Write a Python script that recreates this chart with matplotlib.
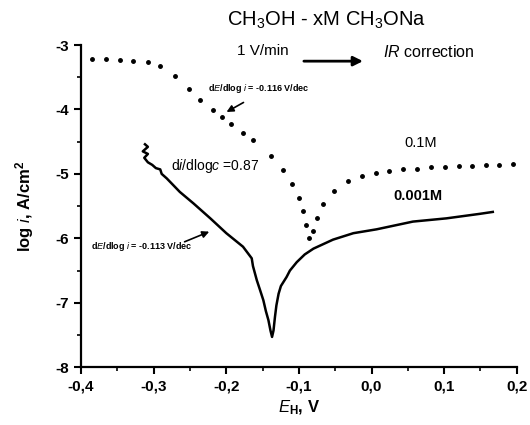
import matplotlib
matplotlib.use('Agg')
import matplotlib.pyplot as plt
from matplotlib.ticker import MultipleLocator, FuncFormatter

plt.rcParams['font.family'] = ['Liberation Sans', 'DejaVu Sans']
plt.rcParams['mathtext.fontset'] = 'custom'
plt.rcParams['mathtext.rm'] = 'Liberation Sans'
plt.rcParams['mathtext.it'] = 'Liberation Sans:italic'
plt.rcParams['mathtext.bf'] = 'Liberation Sans:bold'

# 0.1M curve (dotted, sampled points)
e_01 = [-0.385, -0.366, -0.347, -0.328, -0.308, -0.291, -0.271, -0.252, -0.236,
        -0.218, -0.206, -0.193, -0.177, -0.163, -0.139, -0.122, -0.109, -0.0996,
        -0.094, -0.090, -0.0858, -0.081, -0.0757, -0.067, -0.051, -0.032, -0.013,
        0.006, 0.024, 0.0435, 0.063, 0.0816, 0.101, 0.120, 0.138, 0.157, 0.176, 0.195]
logi_01 = [-3.21, -3.22, -3.23, -3.24, -3.27, -3.33, -3.48, -3.68, -3.85,
           -4.01, -4.11, -4.23, -4.36, -4.48, -4.72, -4.94, -5.15, -5.37,
           -5.58, -5.80, -6.00, -5.89, -5.69, -5.47, -5.26, -5.11, -5.03,
           -4.98, -4.95, -4.93, -4.92, -4.90, -4.89, -4.88, -4.87, -4.86, -4.86, -4.85]

# 0.001M curve (solid)
e_001 = [-0.312, -0.308, -0.315, -0.308, -0.313, -0.308, -0.302, -0.297, -0.291,
         -0.289, -0.282, -0.264, -0.245, -0.222, -0.200, -0.177, -0.165, -0.1633,
         -0.158, -0.1536, -0.149, -0.1455, -0.142, -0.1392, -0.137, -0.135, -0.133,
         -0.131, -0.128, -0.1248, -0.117, -0.1124, -0.103, -0.092, -0.080, -0.053,
         -0.025, 0.007, 0.057, 0.103, 0.149, 0.167]
logi_001 = [-4.54, -4.58, -4.65, -4.69, -4.75, -4.82, -4.86, -4.91, -4.93,
            -5.00, -5.07, -5.28, -5.46, -5.69, -5.92, -6.13, -6.31, -6.43,
            -6.65, -6.80, -6.96, -7.13, -7.27, -7.43, -7.53, -7.43, -7.22,
            -7.04, -6.86, -6.74, -6.60, -6.50, -6.37, -6.25, -6.16, -6.02,
            -5.92, -5.86, -5.74, -5.69, -5.62, -5.59]

fig = plt.figure(figsize=(5.3, 4.25), dpi=100)
ax = fig.add_axes([0.153, 0.136, 0.822, 0.758])

ax.plot(e_01, logi_01, linestyle='none', marker='o', markersize=2.5, color='black')
ax.plot(e_001, logi_001, color='black', linewidth=1.8, solid_joinstyle='round')

ax.set_xlim(-0.4, 0.2)
ax.set_ylim(-8, -3)
ax.xaxis.set_major_locator(MultipleLocator(0.1))
ax.xaxis.set_minor_locator(MultipleLocator(0.05))
ax.yaxis.set_major_locator(MultipleLocator(1))
ax.yaxis.set_minor_locator(MultipleLocator(0.5))
ax.xaxis.set_major_formatter(FuncFormatter(lambda v, p: ('%.1f' % v).replace('.', ',').replace('-0,0', '0,0')))
ax.yaxis.set_major_formatter(FuncFormatter(lambda v, p: '%d' % round(v)))

for s in ['top', 'right']:
    ax.spines[s].set_visible(False)
for s in ['left', 'bottom']:
    ax.spines[s].set_linewidth(1.6)
ax.tick_params(which='major', direction='out', length=5, width=1.5, labelsize=11)
ax.tick_params(which='minor', direction='out', length=3, width=1.2)
for lab in ax.get_xticklabels() + ax.get_yticklabels():
    lab.set_fontweight('bold')

ax.set_xlabel(r'$\mathbf{\mathit{E}_H}$, V', fontsize=12, fontweight='bold', labelpad=4)
ax.set_ylabel(r'log $\mathbf{\mathit{i}}$, A/cm$^\mathbf{2}$', fontsize=12, fontweight='bold', labelpad=14)

# annotations
ax.text(-0.062, -2.61, r'CH$_3$OH - xM CH$_3$ONa', fontsize=14.5, ha='center', va='center', clip_on=False)
ax.text(-0.150, -3.1, '1 V/min', fontsize=11, ha='center', va='center')
ax.annotate('', xy=(-0.008, -3.25), xytext=(-0.097, -3.25),
            arrowprops=dict(arrowstyle='-|>', color='black', lw=2, mutation_scale=14))
ax.text(0.0156, -3.11, r'$\mathit{IR}$ correction', fontsize=11.5, ha='left', va='center')

ax.text(-0.155, -3.67, r'd$\mathbf{\mathit{E}}$/dlog $\mathbf{\mathit{i}}$ = -0.116 V/dec',
        fontsize=6.5, fontweight='bold', ha='center', va='center')
ax.annotate('', xy=(-0.203, -4.06), xytext=(-0.173, -3.87),
            arrowprops=dict(arrowstyle='-|>', color='black', lw=1.2, mutation_scale=10))

ax.text(-0.215, -4.88, r'd$\mathit{i}$/dlog$\mathit{c}$ =0.87', fontsize=10, ha='center', va='center')
ax.text(0.068, -4.52, '0.1M', fontsize=10.5, ha='center', va='center')
ax.text(0.064, -5.34, '0.001M', fontsize=10.5, fontweight='bold', ha='center', va='center')

ax.text(-0.3165, -6.13, r'd$\mathbf{\mathit{E}}$/dlog $\mathbf{\mathit{i}}$ = -0.113 V/dec',
        fontsize=6.5, fontweight='bold', ha='center', va='center')
ax.annotate('', xy=(-0.220, -5.88), xytext=(-0.261, -6.07),
            arrowprops=dict(arrowstyle='-|>', color='black', lw=1.2, mutation_scale=10))

fig.savefig('out.png', dpi=100)
